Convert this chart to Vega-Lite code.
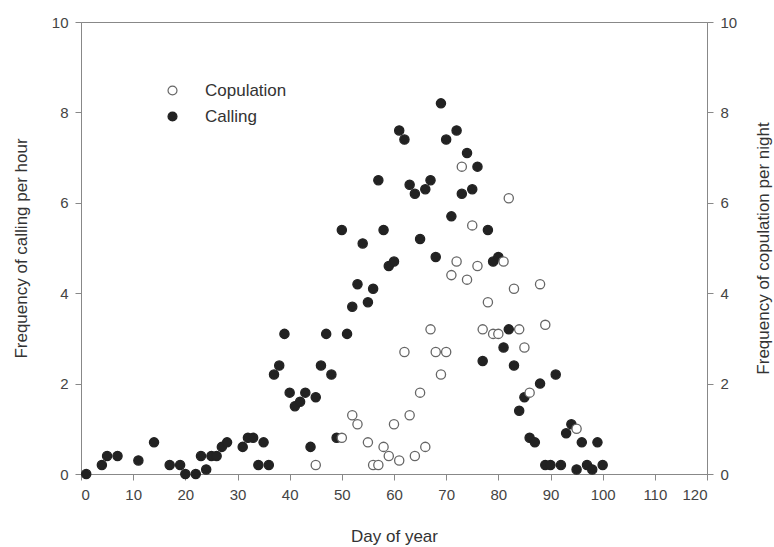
{
  "$schema": "https://vega.github.io/schema/vega-lite/v6.json",
  "width": 626,
  "height": 452,
  "autosize": "none",
  "padding": {"left": 81, "top": 22, "right": 67, "bottom": 73},
  "background": "white",
  "config": {
    "font": "Liberation Sans",
    "view": {"stroke": "#888888", "strokeWidth": 1},
    "axis": {"grid": false, "domainColor": "#888888", "tickColor": "#888888", "labelColor": "#444444", "titleColor": "#333333", "labelFontSize": 15, "titleFontSize": 17, "titleFontWeight": "normal", "tickSize": 6, "labelPadding": 7}
  },
  "datasets": {
    "calling": [
      {"day": 1, "value": 0}, {"day": 4, "value": 0.2}, {"day": 5, "value": 0.4}, {"day": 7, "value": 0.4},
      {"day": 11, "value": 0.3}, {"day": 14, "value": 0.7}, {"day": 17, "value": 0.2}, {"day": 19, "value": 0.2},
      {"day": 20, "value": 0}, {"day": 22, "value": 0}, {"day": 23, "value": 0.4}, {"day": 24, "value": 0.1},
      {"day": 25, "value": 0.4}, {"day": 26, "value": 0.4}, {"day": 27, "value": 0.6}, {"day": 28, "value": 0.7},
      {"day": 31, "value": 0.6}, {"day": 32, "value": 0.8}, {"day": 33, "value": 0.8}, {"day": 34, "value": 0.2},
      {"day": 35, "value": 0.7}, {"day": 36, "value": 0.2}, {"day": 37, "value": 2.2}, {"day": 38, "value": 2.4},
      {"day": 39, "value": 3.1}, {"day": 40, "value": 1.8}, {"day": 41, "value": 1.5}, {"day": 42, "value": 1.6},
      {"day": 43, "value": 1.8}, {"day": 44, "value": 0.6}, {"day": 45, "value": 1.7}, {"day": 46, "value": 2.4},
      {"day": 47, "value": 3.1}, {"day": 48, "value": 2.2}, {"day": 49, "value": 0.8}, {"day": 50, "value": 5.4},
      {"day": 51, "value": 3.1}, {"day": 52, "value": 3.7}, {"day": 53, "value": 4.2}, {"day": 54, "value": 5.1},
      {"day": 55, "value": 3.8}, {"day": 56, "value": 4.1}, {"day": 57, "value": 6.5}, {"day": 58, "value": 5.4},
      {"day": 59, "value": 4.6}, {"day": 60, "value": 4.7}, {"day": 61, "value": 7.6}, {"day": 62, "value": 7.4},
      {"day": 63, "value": 6.4}, {"day": 64, "value": 6.2}, {"day": 65, "value": 5.2}, {"day": 66, "value": 6.3},
      {"day": 67, "value": 6.5}, {"day": 68, "value": 4.8}, {"day": 69, "value": 8.2}, {"day": 70, "value": 7.4},
      {"day": 71, "value": 5.7}, {"day": 72, "value": 7.6}, {"day": 73, "value": 6.2}, {"day": 74, "value": 7.1},
      {"day": 75, "value": 6.3}, {"day": 76, "value": 6.8}, {"day": 77, "value": 2.5}, {"day": 78, "value": 5.4},
      {"day": 79, "value": 4.7}, {"day": 80, "value": 4.8}, {"day": 81, "value": 2.8}, {"day": 82, "value": 3.2},
      {"day": 83, "value": 2.4}, {"day": 84, "value": 1.4}, {"day": 85, "value": 1.7}, {"day": 86, "value": 0.8},
      {"day": 87, "value": 0.7}, {"day": 88, "value": 2.0}, {"day": 89, "value": 0.2}, {"day": 90, "value": 0.2},
      {"day": 91, "value": 2.2}, {"day": 92, "value": 0.2}, {"day": 93, "value": 0.9}, {"day": 94, "value": 1.1},
      {"day": 95, "value": 0.1}, {"day": 96, "value": 0.7}, {"day": 97, "value": 0.2}, {"day": 98, "value": 0.1},
      {"day": 99, "value": 0.7}, {"day": 100, "value": 0.2}
    ],
    "copulation": [
      {"day": 45, "value": 0.2}, {"day": 50, "value": 0.8}, {"day": 52, "value": 1.3}, {"day": 53, "value": 1.1},
      {"day": 55, "value": 0.7}, {"day": 56, "value": 0.2}, {"day": 57, "value": 0.2}, {"day": 58, "value": 0.6},
      {"day": 59, "value": 0.4}, {"day": 60, "value": 1.1}, {"day": 61, "value": 0.3}, {"day": 62, "value": 2.7},
      {"day": 63, "value": 1.3}, {"day": 64, "value": 0.4}, {"day": 65, "value": 1.8}, {"day": 66, "value": 0.6},
      {"day": 67, "value": 3.2}, {"day": 68, "value": 2.7}, {"day": 69, "value": 2.2}, {"day": 70, "value": 2.7},
      {"day": 71, "value": 4.4}, {"day": 72, "value": 4.7}, {"day": 73, "value": 6.8}, {"day": 74, "value": 4.3},
      {"day": 75, "value": 5.5}, {"day": 76, "value": 4.6}, {"day": 77, "value": 3.2}, {"day": 78, "value": 3.8},
      {"day": 79, "value": 3.1}, {"day": 80, "value": 3.1}, {"day": 81, "value": 4.7}, {"day": 82, "value": 6.1},
      {"day": 83, "value": 4.1}, {"day": 84, "value": 3.2}, {"day": 85, "value": 2.8}, {"day": 86, "value": 1.8},
      {"day": 88, "value": 4.2}, {"day": 89, "value": 3.3}, {"day": 95, "value": 1.0}
    ]
  },
  "layer": [
    {
      "data": {"name": "calling"},
      "transform": [{"calculate": "'Calling'", "as": "series"}],
      "mark": {"type": "point", "shape": "circle", "filled": false, "size": 85, "strokeWidth": 1.3, "opacity": 1},
      "encoding": {
        "x": {"field": "day", "type": "quantitative", "scale": {"domain": [0, 120], "nice": false}, "axis": {"values": [0,10,20,30,40,50,60,70,80,90,100,110,120], "title": "Day of year", "titlePadding": 26}},
        "y": {"field": "value", "type": "quantitative", "scale": {"domain": [0, 10], "nice": false}, "axis": {"values": [0,2,4,6,8,10], "title": "Frequency of calling per hour", "titlePadding": 21}},
        "fill": {"field": "series", "type": "nominal", "scale": {"domain": ["Copulation", "Calling"], "range": ["#ffffff", "#222222"]}, "legend": {"title": null, "orient": "none", "legendX": 83, "legendY": 60, "padding": 0, "labelFontSize": 17, "labelColor": "#333333", "labelOffset": 24, "rowPadding": 8, "symbolSize": 80, "symbolStrokeWidth": 1.2}},
        "stroke": {"field": "series", "type": "nominal", "scale": {"domain": ["Copulation", "Calling"], "range": ["#666666", "#222222"]}, "legend": {"title": null, "orient": "none", "legendX": 83, "legendY": 60, "padding": 0, "labelFontSize": 17, "labelColor": "#333333", "labelOffset": 24, "rowPadding": 8, "symbolSize": 80, "symbolStrokeWidth": 1.2}}
      }
    },
    {
      "data": {"name": "copulation"},
      "transform": [{"calculate": "'Copulation'", "as": "series"}],
      "mark": {"type": "point", "shape": "circle", "filled": false, "size": 85, "strokeWidth": 1.3, "opacity": 1},
      "encoding": {
        "x": {"field": "day", "type": "quantitative"},
        "y": {"field": "value", "type": "quantitative", "scale": {"domain": [0, 10], "nice": false}, "axis": {"orient": "right", "values": [0,2,4,6,8,10], "title": "Frequency of copulation per night", "titleAngle": 270, "titleBaseline": "bottom", "titlePadding": 36}},
        "fill": {"field": "series", "type": "nominal"},
        "stroke": {"field": "series", "type": "nominal"}
      }
    }
  ],
  "resolve": {"scale": {"y": "independent"}}
}
